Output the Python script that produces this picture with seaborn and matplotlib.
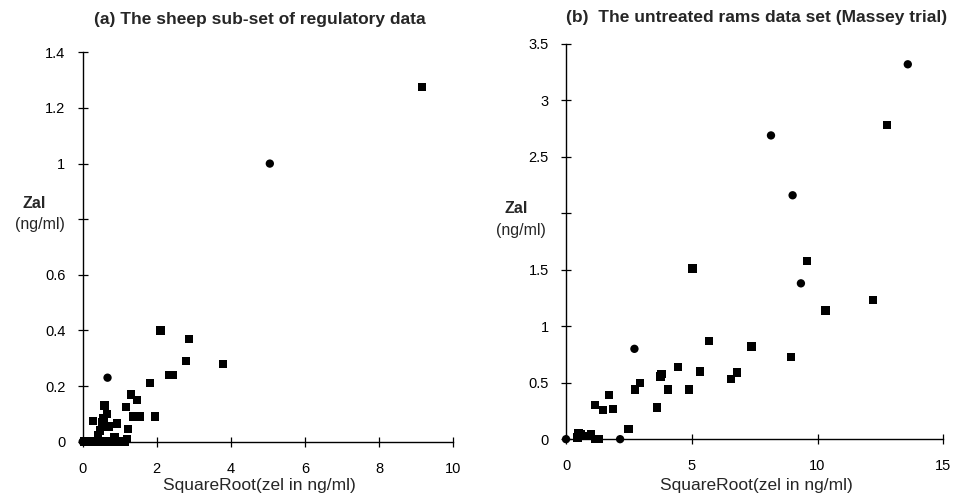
import numpy as np
import pandas as pd
import seaborn as sns
import matplotlib.pyplot as plt

# (a) sheep sub-set of regulatory data
sheep_x = [9.16, 5.05, 2.10, 2.86, 2.79, 3.79, 2.32, 2.43, 1.81, 0.67, 1.31, 1.46,
           1.17, 1.35, 1.55, 1.96, 0.59, 0.65, 0.56, 0.52, 0.70, 0.47, 0.41, 0.92,
           0.28, 1.22, 0.86, 1.19,
           0.0, 0.05, 0.12, 0.20, 0.30, 0.40, 0.50, 0.60, 0.75, 0.95, 1.05, 1.15]
sheep_y = [1.275, 1.0, 0.40, 0.37, 0.29, 0.28, 0.24, 0.24, 0.21, 0.23, 0.17, 0.15,
           0.125, 0.09, 0.09, 0.09, 0.13, 0.10, 0.085, 0.07, 0.055, 0.04, 0.025, 0.065,
           0.075, 0.045, 0.015, 0.01,
           0, 0, 0, 0, 0, 0, 0, 0, 0, 0, 0, 0]
sheep_shape = ['s', 'o', 's', 's', 's', 's', 's', 's', 's', 'o', 's', 's',
               's', 's', 's', 's', 's', 's', 's', 's', 's', 's', 's', 's',
               's', 's', 's', 's',
               'o', 's', 's', 's', 's', 's', 's', 's', 's', 's', 's', 's']

# (b) untreated rams data set (Massey trial)
rams_x = [13.59, 12.77, 8.15, 9.01, 9.58, 9.34, 12.20, 10.32, 5.03, 5.68, 7.38, 8.94,
          2.72, 4.45, 3.80, 3.75, 5.34, 6.81, 6.56, 2.94, 2.74, 4.05, 4.88, 1.72,
          1.15, 1.46, 1.88, 3.62, 2.49, 2.15, 0.0,
          0.46, 0.50, 0.60, 0.75, 0.90, 1.00, 1.15, 1.30]
rams_y = [3.32, 2.78, 2.69, 2.16, 1.58, 1.38, 1.23, 1.14, 1.51, 0.87, 0.82, 0.73,
          0.80, 0.64, 0.58, 0.555, 0.60, 0.59, 0.53, 0.50, 0.44, 0.44, 0.44, 0.39,
          0.30, 0.26, 0.27, 0.28, 0.09, 0.0, 0.0,
          0.015, 0.05, 0.04, 0.03, 0.03, 0.04, 0.0, 0.0]
rams_shape = ['o', 's', 'o', 'o', 's', 'o', 's', 's', 's', 's', 's', 's',
              'o', 's', 's', 's', 's', 's', 's', 's', 's', 's', 's', 's',
              's', 's', 's', 's', 's', 'o', 'o',
              's', 's', 's', 's', 's', 's', 's', 's']

sheep_yticks = [0, 0.2, 0.4, 0.6, 0.8, 1, 1.2, 1.4]
sheep_ylabels = ['0', '0.2', '0.4', '0.6', '', '1', '1.2', '1.4']
sheep_xticks = [0, 2, 4, 6, 8, 10]
rams_yticks = [0, 0.5, 1, 1.5, 2, 2.5, 3, 3.5]
rams_ylabels = ['0', '0.5', '1', '1.5', '', '2.5', '3', '3.5']
rams_xticks = [0, 5, 10, 15]

sns.set_style("ticks")
plt.rcParams['font.family'] = ['Liberation Sans', 'DejaVu Sans']

fig = plt.figure(figsize=(9.55, 4.94), dpi=100)
ax1 = fig.add_axes([0.0866, 0.106, 0.388, 0.788])
ax2 = fig.add_axes([0.5927, 0.111, 0.395, 0.800])

panels = [
    (ax1, sheep_x, sheep_y, sheep_shape, sheep_xticks, sheep_yticks, sheep_ylabels),
    (ax2, rams_x, rams_y, rams_shape, rams_xticks, rams_yticks, rams_ylabels),
]

for ax, xs, ys, shapes, xt, yt, yl in panels:
    df = pd.DataFrame({'x': xs, 'y': ys, 'shape': shapes})
    sns.scatterplot(data=df, x='x', y='y', style='shape',
                    markers={'s': 's', 'o': 'o'}, color='black', s=36,
                    linewidth=0, legend=False, ax=ax, clip_on=False, zorder=3)
    ax.set_xlim(xt[0], xt[-1])
    ax.set_ylim(yt[0], yt[-1])
    ax.set_xticks(xt)
    ax.set_yticks(yt)
    ax.set_yticklabels(yl)
    ax.tick_params(direction='inout', length=7, width=0.9, labelsize=10.5, colors='black')
    ax.tick_params(axis='x', pad=11)
    ax.tick_params(axis='y', pad=9)
    sns.despine(ax=ax)
    for sp in ['left', 'bottom']:
        ax.spines[sp].set_color('black')
        ax.spines[sp].set_linewidth(1.0)
    ax.set_xlabel("")
    ax.set_ylabel("")

# axis labels and titles
fig.text(0.272, 0.018, "SquareRoot(zel in ng/ml)", fontsize=12.5, ha='center', va='center')
fig.text(0.792, 0.018, "SquareRoot(zel in ng/ml)", fontsize=12.5, ha='center', va='center')

fig.text(0.0356, 0.589, "Zal", fontsize=11.5, fontweight='bold', ha='center', va='center')
fig.text(0.042, 0.545, "(ng/ml)", fontsize=11.5, ha='center', va='center')
fig.text(0.540, 0.577, "Zal", fontsize=11.5, fontweight='bold', ha='center', va='center')
fig.text(0.5455, 0.534, "(ng/ml)", fontsize=11.5, ha='center', va='center')

fig.text(0.272, 0.960, "(a) The sheep sub-set of regulatory data",
         fontsize=12.5, fontweight='bold', ha='center', va='center')
fig.text(0.5927, 0.964, "(b)  The untreated rams data set (Massey trial)",
         fontsize=12.5, fontweight='bold', ha='left', va='center')

fig.savefig("out.png", dpi=100, facecolor='white')
